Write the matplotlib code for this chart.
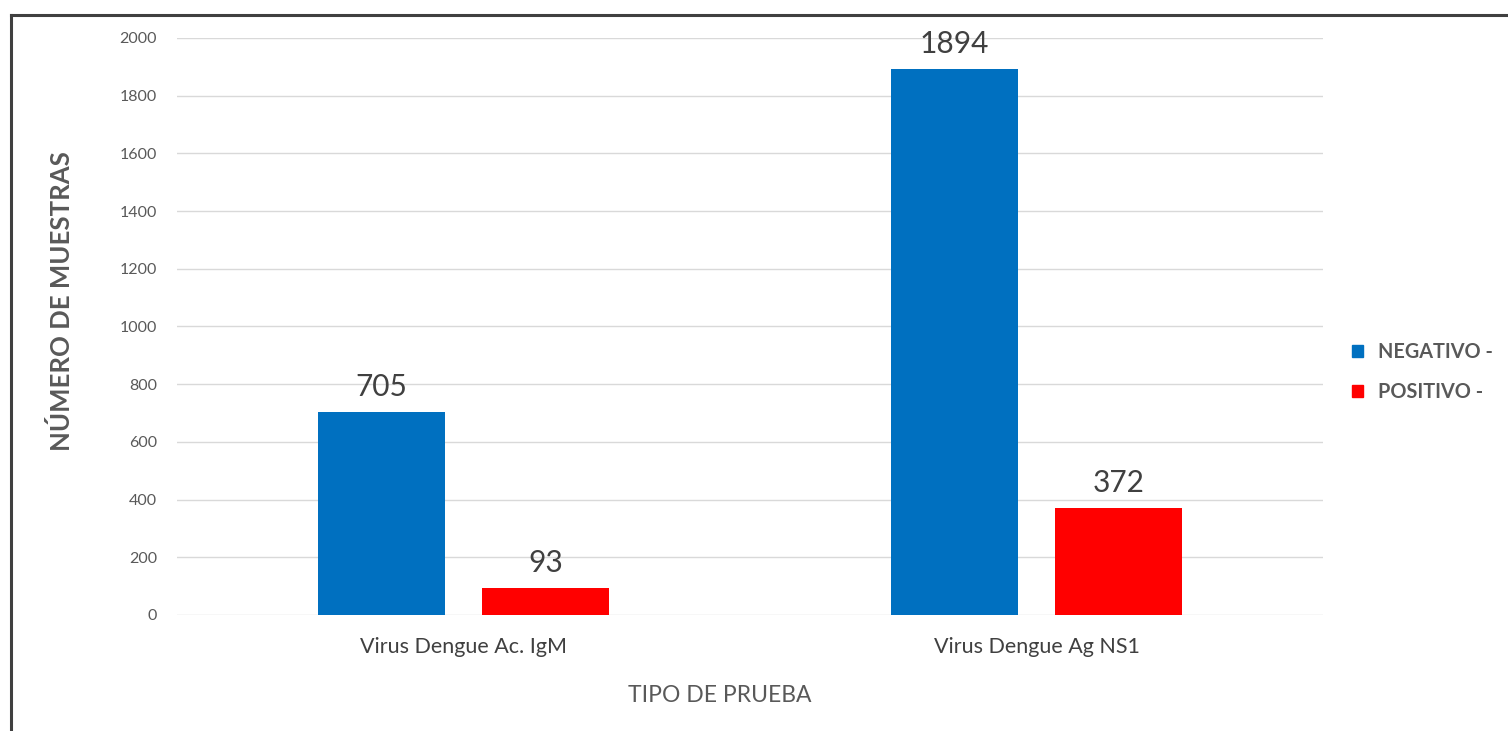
import matplotlib
matplotlib.use("Agg")
import matplotlib.pyplot as plt
import numpy as np
from matplotlib.lines import Line2D

categories = ["Virus Dengue Ac. IgM", "Virus Dengue Ag NS1"]
negativo = [705, 1894]
positivo = [93, 372]
series_labels = ["NEGATIVO -", "POSITIVO -"]
yticks = [0, 200, 400, 600, 800, 1000, 1200, 1400, 1600, 1800, 2000]

plt.rcParams['font.family'] = ['Lato', 'DejaVu Sans']

fig = plt.figure(figsize=(15.08, 7.31), dpi=100)
ax = fig.add_axes([177/1508, 1-615/731, (1323-177)/1508, (615-38)/731])

x = np.arange(len(categories))
w = 0.223
off = 0.143
b1 = ax.bar(x - off, negativo, w, color="#0070C0", label=series_labels[0], zorder=3)
b2 = ax.bar(x + off, positivo, w, color="#FF0000", label=series_labels[1], zorder=3)

for bars, vals in ((b1, negativo), (b2, positivo)):
    for r, v in zip(bars, vals):
        ax.text(r.get_x() + r.get_width()/2, v + 38, str(v), ha="center", va="bottom",
                fontsize=21.5, color="#404040")

ax.set_xlim(-0.5, 1.5)
ax.set_ylim(0, 2000)
ax.set_yticks(yticks)
ax.set_yticklabels([str(t) for t in yticks], fontsize=11.5, color="#595959")
ax.set_xticks(x)
ax.set_xticklabels(categories, fontsize=15.5, color="#404040")
ax.tick_params(axis="both", length=0)
ax.tick_params(axis="y", pad=14.5)
ax.tick_params(axis="x", pad=16)
ax.grid(axis="y", color="#D9D9D9", linewidth=1, zorder=0)
for s in ax.spines.values():
    s.set_visible(False)

fig.text(720/1508, 1-695/731, "TIPO DE PRUEBA", ha="center", va="center",
         fontsize=16.5, color="#595959")
fig.text(62/1508, 1-301/731, "NÚMERO DE MUESTRAS", ha="center", va="center",
         rotation=90, fontsize=18.5, fontweight="bold", color="#595959")

handles = [plt.Rectangle((0, 0), 1, 1, color="#0070C0"),
           plt.Rectangle((0, 0), 1, 1, color="#FF0000")]
leg = fig.legend(handles, series_labels, loc="center left",
                 bbox_to_anchor=(1334/1508, 1-372/731), frameon=False,
                 handlelength=0.55, handleheight=0.55,
                 handletextpad=0.75, labelspacing=1.05,
                 prop={"weight": "bold", "size": 14.3})
for t in leg.get_texts():
    t.set_color("#595959")

fig.add_artist(Line2D([11/1508, 1], [1-15/731, 1-15/731], color="#404040", lw=2.2,
                      transform=fig.transFigure))
fig.add_artist(Line2D([11/1508, 11/1508], [0, 1-15/731], color="#404040", lw=2.2,
                      transform=fig.transFigure))

fig.savefig("out.png", dpi=100)
